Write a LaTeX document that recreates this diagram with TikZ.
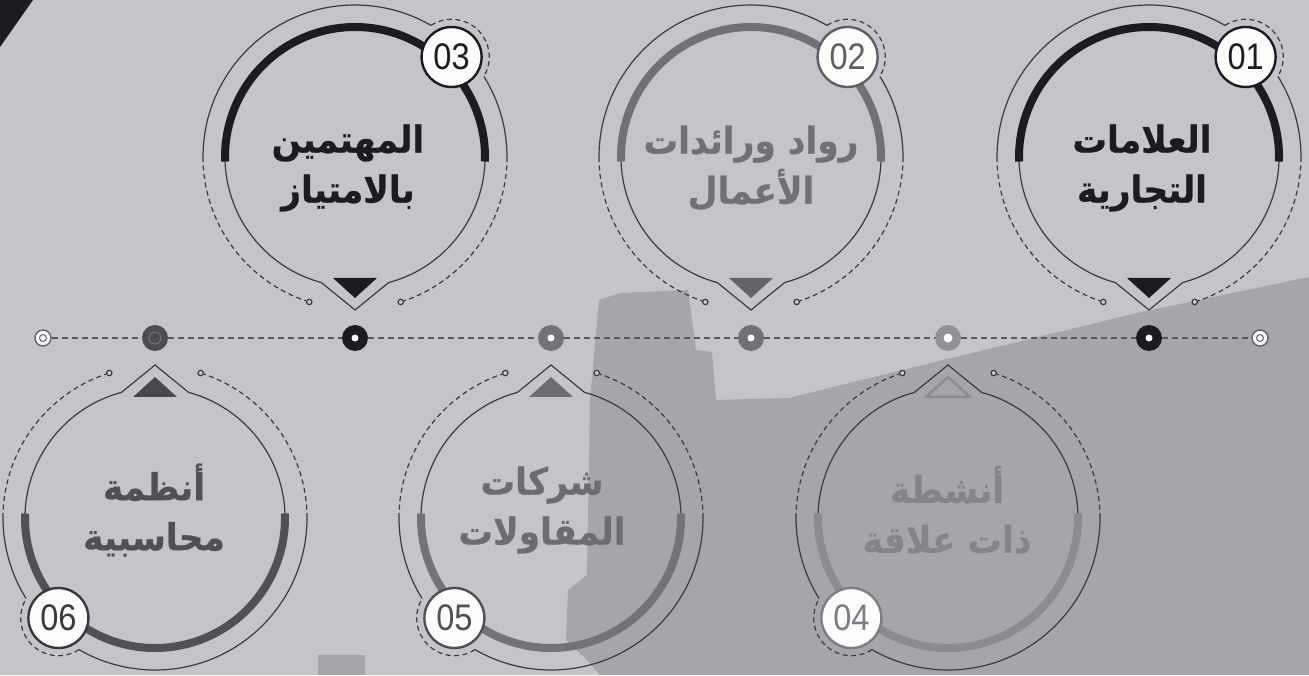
\documentclass[tikz,border=0pt]{standalone}
\usepackage{fontspec}
\setmainfont{Liberation Sans}
\newfontfamily\arabicfont[Script=Arabic, FakeStretch=0.93, BoldFeatures={FakeBold=0.6}]{DejaVu Sans}
\newfontfamily\numfont[FakeStretch=0.88]{Liberation Sans}
\TeXXeTstate=1
\definecolor{bgC}{HTML}{C5C4CA}
\definecolor{dkbgC}{HTML}{A6A5AB}
\definecolor{lineC}{HTML}{3A3A40}
\definecolor{blackC}{HTML}{1C1C20}
\definecolor{gA}{HTML}{707075}
\definecolor{gB}{HTML}{8C8B91}
\definecolor{gC}{HTML}{737278}
\definecolor{gD}{HTML}{505056}
\tikzset{
  thinln/.style={line width=1.2pt, draw=lineC},
  dashln/.style={thinln, dash pattern=on 5pt off 3.5pt},
  timeln/.style={line width=1.8pt, draw=lineC!85, dash pattern=on 6pt off 4pt},
  badge/.style={circle, minimum size=60pt, inner sep=0pt, fill=white!95!bgC, line width=2.4pt,
     font=\numfont\fontsize{37}{37}\selectfont},
  lbl/.style={align=center, font=\arabicfont\bfseries\fontsize{37}{50}\selectfont},
  bigdot/.style={circle, minimum size=26pt, inner sep=0pt},
  enddot/.style={circle, minimum size=16pt, inner sep=0pt, draw=lineC!80, line width=1.4pt, fill=white!90!bgC},
}
% #1 id, #2 x, #3 y, #4 rotation, #5 accent, #6 badge colour, #7 number, #8 triangle style
\newcommand\ringitem[8]{%
\begin{scope}[shift={(#2,#3)}, rotate=#4]
  \draw[thinln] (-75:130) arc[start angle=-75, end angle=255, radius=130] -- (0,-153) -- cycle;
  \draw[line width=8pt, draw=#5] (-2:130) arc[start angle=-2, end angle=182, radius=130];
  \draw[thinln] (180:152) arc[start angle=180, end angle=60, radius=152];
  \draw[thinln] (32:152) arc[start angle=32, end angle=0, radius=152];
  \draw[dashln] (180:152) arc[start angle=180, end angle=251.3, radius=152];
  \draw[dashln] (0:152) arc[start angle=0, end angle=-71.3, radius=152];
  \draw[thinln, fill=bgC!90!white] (252.5:152) circle[radius=2.7];
  \draw[thinln, fill=bgC!90!white] (-72.5:152) circle[radius=2.7];
  \draw[dashln] (96.6,100) ++(123:37.7) arc[start angle=123, end angle=-31, radius=37.7];
  \node[badge, draw=#6, text=#6] (#1) at (96.6,100) {#7};
  \path[#8] (-22,-121) -- (22,-121) -- (0,-141) -- cycle;
\end{scope}}
\begin{document}
\begin{tikzpicture}[x=1pt, y=1pt]
\useasboundingbox (0,0) rectangle (1309,675);
% background
\fill[bgC] (0,0) rectangle (1309,675);
\fill[dkbgC] (599,375) -- (620,382) -- (688,385) -- (696,325) -- (712,323) -- (716,275)
  -- (789,277) -- (943,315) -- (1137,362) -- (1309,398) -- (1309,0) -- (600,0)
  -- (587,15) -- (566,35) -- (568,85) -- (587,100) -- (590,275) -- cycle;
\fill[dkbgC] (318,0) rectangle (365,20);
\fill[blackC] (0,675) -- (33,675) -- (0,628) -- cycle;
% rings
\ringitem{b01}{1149}{518}{0}{blackC}{blackC}{01}{fill=blackC}
\ringitem{b02}{751}{518}{0}{gA}{gA!85!black}{02}{fill=gA!90!black}
\ringitem{b03}{355}{518}{0}{blackC}{blackC}{03}{fill=blackC}
\ringitem{b04}{948}{157}{180}{gB}{gB!90!black}{04}{draw=gB, line width=2.5pt}
\ringitem{b05}{551}{157}{180}{gC}{gC!70!black}{05}{fill=gC!95!black}
\ringitem{b06}{155}{157}{180}{gD}{gD!70!black}{06}{fill=gD!90!black}
% labels
\node[lbl, text=blackC] (t01) at (1142,507) {\beginR العلامات\endR\\\beginR التجارية\endR};
\node[lbl, text=gA] (t02) at (751,507) {\beginR رواد ورائدات\endR\\\beginR الأعمال\endR};
\node[lbl, text=blackC] (t03) at (348,507) {\beginR المهتمين\endR\\\beginR بالامتياز\endR};
\node[lbl, text=gB!95!black] (t04) at (947,165) {\beginR أنشطة\endR\\\beginR ذات علاقة\endR};
\node[lbl, text=gC!95!black] (t05) at (542,165) {\beginR شركات\endR\\\beginR المقاولات\endR};
\node[lbl, text=gD] (t06) at (154,165) {\beginR أنظمة\endR\\\beginR محاسبية\endR};
% timeline
\node[enddot] (d0) at (43,337) {};
\node[bigdot, fill=gD!95!black] (d1) at (155,337) {};
\node[bigdot, fill=blackC] (d2) at (355,337) {};
\node[bigdot, fill=gC] (d3) at (551,337) {};
\node[bigdot, fill=gA] (d4) at (751,337) {};
\node[bigdot, fill=gB!95!white] (d5) at (948,337) {};
\node[bigdot, fill=blackC] (d6) at (1149,337) {};
\node[enddot] (d7) at (1260,337) {};
\draw[timeln] (d0) -- (d1) -- (d2) -- (d3) -- (d4) -- (d5) -- (d6) -- (d7);
\draw[lineC!80, line width=1pt] (d0.center) circle[radius=3.5];
\draw[lineC!80, line width=1pt] (d7.center) circle[radius=3.5];
\draw[gD!80!white, line width=1pt] (d1.center) circle[radius=6];
\foreach \d in {d2,d3,d4,d6} \fill[white] (\d.center) circle[radius=3.5];
\fill[white] (d5.center) circle[radius=4.5];
\end{tikzpicture}
\end{document}
